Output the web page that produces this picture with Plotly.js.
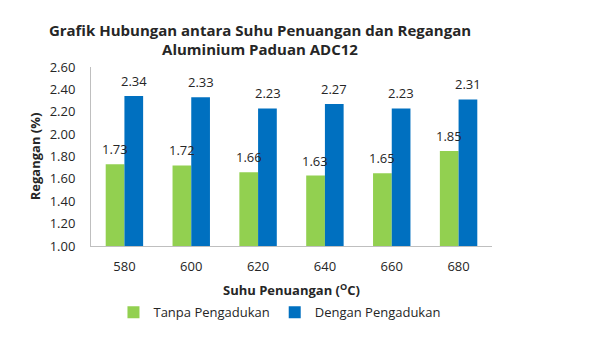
<!DOCTYPE html>
<html><head><meta charset="utf-8">
<script src="https://cdn.plot.ly/plotly-3.0.1.min.js"></script>
<style>html,body{margin:0;padding:0;background:#fff}#c{width:600px;height:355px}</style>
</head><body><div id="c"></div>
<script>
const categories = ["580","600","620","640","660","680"];
const tanpa = [1.73,1.72,1.66,1.63,1.65,1.85];
const dengan = [2.34,2.33,2.23,2.27,2.23,2.31];
const seriesNames = ["Tanpa Pengadukan","Dengan Pengadukan"];
const colors = ["#92D050","#0070C0"];
const F = "Open Sans, Liberation Sans, sans-serif";

const traces = [tanpa, dengan].map((v,i)=>({
  type:"bar", x:categories, y:v, name:seriesNames[i],
  marker:{color:colors[i]}
}));
const ann = [];
[tanpa, dengan].forEach((v,i)=>{
  v.forEach((val,j)=>ann.push({x:j, y:val, xref:"x", yref:"y",
    text:val.toFixed(2), showarrow:false, yanchor:"bottom", yshift:4,
    xshift: i===0 ? -9.5 : 9.5, font:{family:F,size:13,color:"#262626"}}));
});
const layout = {
  width:600, height:355, paper_bgcolor:"#fff", plot_bgcolor:"#fff",
  margin:{l:91, r:108, t:67, b:109},
  title:{text:"<b>Grafik Hubungan antara Suhu Penuangan dan Regangan<br>Aluminium Paduan ADC12</b>",
    x:260/600, xanchor:"center", xref:"container", y:0.90, yanchor:"top",
    font:{family:F,size:15,color:"#262626"}},
  barmode:"group", bargap:0.44, bargroupgap:0,
  showlegend:true,
  legend:{orientation:"h", x:0.47, xanchor:"center", y:-0.37, yanchor:"middle",
    font:{family:F,size:13,color:"#262626"}, itemwidth:30, traceorder:"normal"},
  xaxis:{type:"category", range:[-0.5,5.5], showline:true, linecolor:"#bfbfbf", linewidth:1,
    ticks:"", tickfont:{family:F,size:13,color:"#262626"}, ticklabelstandoff:8,
    title:{text:"<b>Suhu Penuangan (<sup>O</sup>C)</b>", font:{family:F,size:13,color:"#262626"}, standoff:12}},
  yaxis:{range:[1.0,2.6], dtick:0.2, tickformat:".2f", showgrid:false, zeroline:false,
    showline:true, linecolor:"#bfbfbf", linewidth:1, ticks:"",
    tickfont:{family:F,size:13,color:"#262626"}, ticklabelstandoff:12,
    title:{text:"<b>Regangan (%)</b>", font:{family:F,size:13,color:"#262626"}, standoff:6}},
  annotations:ann
};
Plotly.newPlot("c", traces, layout, {displayModeBar:false, staticPlot:true});
</script></body></html>
